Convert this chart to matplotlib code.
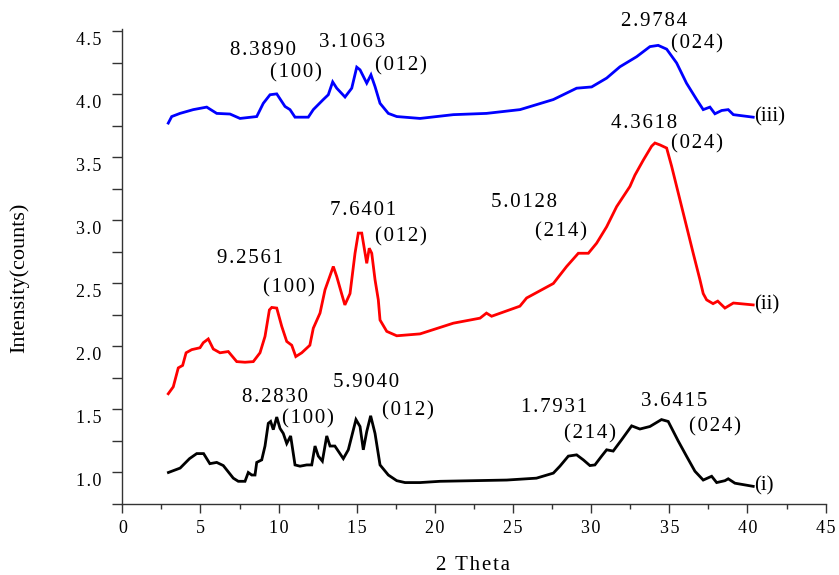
import matplotlib
matplotlib.use("Agg")
import matplotlib.pyplot as plt
from matplotlib.ticker import MultipleLocator, FuncFormatter
from matplotlib.transforms import ScaledTranslation

# --- data ---
x_i = [2.95, 3.7, 4.3, 4.76, 5.2, 5.6, 6.04, 6.46, 7.1, 7.42, 7.85, 8.06, 8.28, 8.49,
       8.6, 8.92, 9.13, 9.34, 9.49, 9.66, 9.88, 10.09, 10.3, 10.52, 10.77, 11.05,
       11.37, 11.8, 12.12, 12.33, 12.54, 12.8, 13.08, 13.29, 13.6, 14.14, 14.46,
       14.95, 15.21, 15.42, 15.64, 15.89, 16.17, 16.49, 17.02, 17.56, 18.09, 19.05,
       20.33, 24.6, 26.5, 27.58, 28.0, 28.54, 29.07, 29.5, 29.92, 30.24, 30.67,
       30.99, 31.41, 31.95, 32.59, 33.12, 33.76, 34.5, 34.93, 35.57, 36.1, 36.64,
       37.17, 37.71, 38.03, 38.56, 38.77, 39.2, 40.37]
y_i = [1.0, 1.035, 1.11, 1.15, 1.15, 1.07, 1.08, 1.055, 0.955, 0.93, 0.93, 1.0, 0.98, 0.98,
       1.08, 1.10, 1.21, 1.39, 1.405, 1.34, 1.44, 1.35, 1.31, 1.23, 1.29, 1.06,
       1.05, 1.06, 1.06, 1.21, 1.13, 1.09, 1.29, 1.21, 1.21, 1.11, 1.18,
       1.42, 1.365, 1.18, 1.325, 1.45, 1.31, 1.06, 0.98, 0.935, 0.92, 0.92,
       0.93, 0.94, 0.955, 0.995, 1.05, 1.13, 1.14, 1.10, 1.055, 1.06, 1.13,
       1.18, 1.17, 1.26, 1.37, 1.345, 1.365, 1.42, 1.405, 1.25, 1.13, 1.01,
       0.94, 0.97, 0.92, 0.935, 0.95, 0.915, 0.89]

x_ii = [2.94, 3.26, 3.58, 3.86, 4.08, 4.44, 4.97, 5.18, 5.5, 5.82, 6.25, 6.78, 7.32,
        7.85, 8.38, 8.81, 9.13, 9.41, 9.56, 9.88, 10.2, 10.52, 10.84, 11.1, 11.48,
        12.0, 12.22, 12.65, 12.97, 13.5, 13.72, 14.03, 14.24, 14.57, 14.89, 15.1,
        15.32, 15.64, 15.8, 15.96, 16.17, 16.38, 16.49, 16.92, 17.56, 19.05, 21.18,
        22.89, 23.3, 23.63, 25.44, 25.87, 27.58, 28.43, 29.18, 29.82, 30.35, 30.99,
        31.63, 32.48, 32.8, 33.34, 33.87, 34.08, 34.4, 34.83, 35.15, 35.89, 36.53,
        36.96, 37.17, 37.39, 37.8, 38.1, 38.56, 39.1, 40.37]
y_ii = [1.625, 1.68, 1.83, 1.85, 1.95, 1.975, 1.99, 2.03, 2.06, 1.98, 1.95, 1.96, 1.88,
        1.875, 1.88, 1.95, 2.08, 2.29, 2.31, 2.305, 2.16, 2.04, 2.01, 1.92, 1.95,
        2.01, 2.145, 2.265, 2.45, 2.635, 2.555, 2.42, 2.33, 2.42, 2.74, 2.90,
        2.90, 2.66, 2.78, 2.74, 2.53, 2.37, 2.21, 2.12, 2.085, 2.10, 2.185,
        2.225, 2.265, 2.24, 2.32, 2.385, 2.50, 2.635, 2.74, 2.74, 2.82, 2.95,
        3.11, 3.27, 3.36, 3.48, 3.59, 3.615, 3.60, 3.575, 3.43, 3.06, 2.74,
        2.53, 2.42, 2.37, 2.34, 2.36, 2.305, 2.345, 2.33]

x_iii = [2.94, 3.16, 3.69, 4.54, 5.4, 6.04, 6.89, 7.53, 8.6, 9.02, 9.45, 9.88, 10.41,
         10.73, 11.05, 11.9, 12.22, 12.86, 13.18, 13.46, 13.72, 14.25, 14.68, 15.0,
         15.21, 15.64, 15.91, 16.17, 16.49, 17.02, 17.56, 19.05, 21.18, 23.3, 25.45,
         27.58, 29.07, 30.03, 30.99, 31.84, 32.91, 33.76, 34.29, 34.83, 35.47, 36.1,
         36.75, 37.17, 37.6, 37.92, 38.35, 38.77, 39.1, 40.37]
y_iii = [3.773, 3.825, 3.85, 3.88, 3.90, 3.85, 3.845, 3.81, 3.825, 3.93, 3.998, 4.005, 3.905,
         3.88, 3.82, 3.82, 3.88, 3.96, 3.998, 4.10, 4.05, 3.98, 4.05, 4.217,
         4.196, 4.09, 4.156, 4.063, 3.93, 3.85, 3.825, 3.81, 3.84, 3.85, 3.88,
         3.96, 4.05, 4.06, 4.13, 4.22, 4.30, 4.38, 4.39, 4.36, 4.25, 4.09,
         3.96, 3.88, 3.90, 3.847, 3.873, 3.88, 3.84, 3.82]

# peak annotations: text, x, y (text centres)
note_text = ["8.3890", "(100)", "3.1063", "(012)", "2.9784", "(024)",
             "4.3618", "(024)", "5.0128", "(214)", "7.6401", "(012)", "9.2561", "(100)",
             "8.2830", "(100)", "5.9040", "(012)", "1.7931", "(214)", "3.6415", "(024)"]
note_x = [9.03, 11.11, 14.68, 17.84, 34.02, 36.79,
          33.36, 36.79, 25.7, 28.05, 15.42, 17.84, 8.17, 10.67,
          9.74, 11.9, 15.61, 18.28, 27.6, 29.92, 35.28, 37.95]
note_y = [4.347, 4.17, 4.414, 4.23, 4.58, 4.40,
          3.767, 3.61, 3.145, 2.906, 3.077, 2.867, 2.696, 2.466,
          1.597, 1.426, 1.716, 1.49, 1.517, 1.307, 1.563, 1.359]

curve_names = ["(i)", "(ii)", "(iii)"]

plt.rcParams["font.family"] = ["Liberation Serif", "DejaVu Serif"]


def spaced(s):
    # old bitmap-style font had loose letter spacing
    return "\u200a".join(s)


fig = plt.figure(figsize=(8.39, 5.75), dpi=100)
ax = fig.add_axes([0.1458, 0.1235, 0.8382, 0.8261])

series = [(x_i, y_i, "black"), (x_ii, y_ii, "#ff0000"), (x_iii, y_iii, "#0000ff")]
for (xs, ys, col), name in zip(series, curve_names):
    ax.plot(xs, ys, color=col, lw=2.0, solid_joinstyle="miter")
    ax.text(xs[-1] + 0.05, ys[-1], name, fontsize=15, ha="left", va="center")

for t, tx, ty in zip(note_text, note_x, note_y):
    ax.text(tx, ty, spaced(t), fontsize=15, ha="center", va="center", clip_on=False)

ax.set_xlim(0, 45)
ax.set_ylim(0.75, 4.52)
ax.xaxis.set_major_locator(MultipleLocator(5))
ax.xaxis.set_minor_locator(MultipleLocator(2.5))
ax.yaxis.set_major_locator(MultipleLocator(0.5))
ax.yaxis.set_minor_locator(MultipleLocator(0.25))
ax.set_yticks([1.0, 1.5, 2.0, 2.5, 3.0, 3.5, 4.0, 4.5])
ax.xaxis.set_major_formatter(FuncFormatter(lambda v, p: spaced("%d" % v)))
ax.yaxis.set_major_formatter(FuncFormatter(lambda v, p: spaced("%.1f" % v)))

for s in ("top", "right"):
    ax.spines[s].set_visible(False)
for s in ("left", "bottom"):
    ax.spines[s].set_color("#333333")
    ax.spines[s].set_linewidth(1.0)

ax.tick_params(axis="x", which="major", direction="out", length=6.5, width=1, pad=5,
               labelsize=13, colors="#333333", labelcolor="black")
ax.tick_params(axis="x", which="minor", direction="out", length=3.6, width=1, colors="#333333")
ax.tick_params(axis="y", which="both", direction="out", length=7.2, width=1, pad=8,
               labelsize=13, colors="#333333", labelcolor="black")

# y tick labels sit a little below their ticks in the original
fig.canvas.draw()
shift = ScaledTranslation(0, -5 / 72, fig.dpi_scale_trans)
for lab in ax.get_yticklabels():
    lab.set_transform(lab.get_transform() + shift)

fig.text(473 / 839, 1 - 565 / 575, spaced("2 Theta"), fontsize=15, ha="center", va="center")
fig.text(19 / 839, 1 - 278 / 575, "Intensity(counts)", fontsize=16, rotation=90,
         ha="center", va="center")

fig.savefig("out.png", dpi=100)
